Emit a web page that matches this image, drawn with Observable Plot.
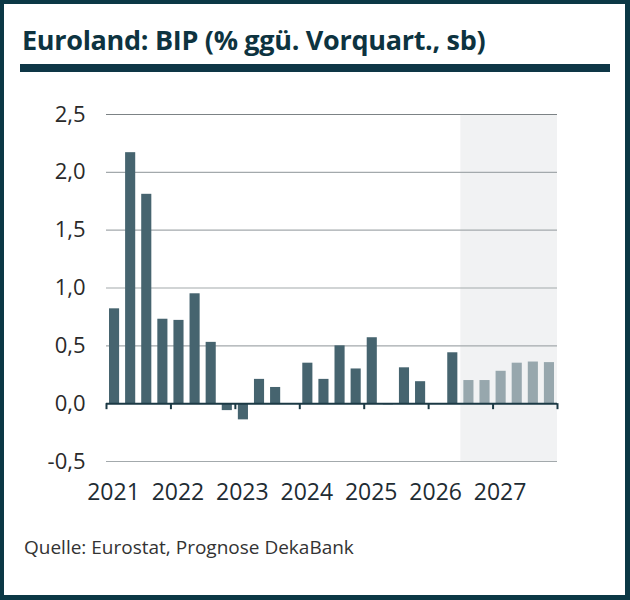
<!DOCTYPE html>
<html>
<head>
<meta charset="utf-8">
<script src="https://cdn.jsdelivr.net/npm/d3@7"></script>
<script src="https://cdn.jsdelivr.net/npm/@observablehq/plot@0.6"></script>
<style>
  body { margin: 0; background: #fff; }
  #card {
    position: relative; width: 630px; height: 600px; box-sizing: border-box;
    border: 4px solid #0b3845; border-right-width: 5px; border-bottom-width: 5px;
    font-family: "Open Sans", sans-serif; overflow: hidden;
  }
  #title {
    position: absolute; left: 18px; top: 22px; font-size: 27px; line-height: 1; font-weight: 700;
    color: #0d3340; letter-spacing: -0.3px; white-space: nowrap;
  }
  #bar { position: absolute; left: 16px; top: 60px; width: 590px; height: 8px; background: #0e3646; }
  #chart { position: absolute; left: -4px; top: 86px; width: 640px; }
  #chart svg { max-width: none; }
  #caption {
    position: absolute; left: 20px; top: 534px; font-size: 19px; line-height: 1;
    color: #333; white-space: nowrap;
  }
</style>
</head>
<body>
<div id="card">
  <div id="title">Euroland: BIP (% ggü. Vorquart., sb)</div>
  <div id="bar"></div>
  <div id="chart"></div>
  <div id="caption">Quelle: Eurostat, Prognose DekaBank</div>
</div>
<script>
const quarters = [
  "2021 Q1", "2021 Q2", "2021 Q3", "2021 Q4",
  "2022 Q1", "2022 Q2", "2022 Q3", "2022 Q4",
  "2023 Q1", "2023 Q2", "2023 Q3", "2023 Q4",
  "2024 Q1", "2024 Q2", "2024 Q3", "2024 Q4",
  "2025 Q1", "2025 Q2", "2025 Q3", "2025 Q4",
  "2026 Q1", "2026 Q2", "2026 Q3", "2026 Q4",
  "2027 Q1", "2027 Q2", "2027 Q3", "2027 Q4"
]
const values = [
  0.82, 2.17, 1.81, 0.73,
  0.72, 0.95, 0.53, -0.06,
  -0.14, 0.21, 0.14, 0.0,
  0.35, 0.21, 0.50, 0.30,
  0.57, -0.01, 0.31, 0.19,
  0.0, 0.44, 0.20, 0.20,
  0.28, 0.35, 0.36, 0.355
]
const forecastFrom = "2026 Q3"
const years = [2021, 2022, 2023, 2024, 2025, 2026, 2027]
const yTicks = [-0.5, 0, 0.5, 1, 1.5, 2, 2.5]

// quarter "2021 Q3" -> 2021.5 on a continuous time axis
const toT = q => +q.slice(0, 4) + (+q.slice(6) - 1) / 4
const tForecast = toT(forecastFrom)

const data = quarters.map((q, i) => ({
  t: toT(q),
  value: values[i],
  forecast: toT(q) >= tForecast
}))

// 0.5 -> "0,5", with a plain hyphen for negatives
const fmt = d => d3.format('.1f')(d).replace('.', ',').replace('\u2212', '-')

const chart = Plot.plot({
  width: 634,
  height: 424,
  marginLeft: 106,
  marginRight: 77,
  marginTop: 24,
  marginBottom: 53,
  x: { domain: [2021, 2028], axis: null },
  y: { domain: [-0.5, 2.5], axis: null },
  style: { fontFamily: 'Open Sans, sans-serif', overflow: 'visible', maxWidth: 'none' },
  marks: [
    // Prognose-Bereich
    Plot.rect([tForecast], { x1: d => d, x2: 2028, y1: -0.5, y2: 2.5, fill: '#f1f2f3' }),
    Plot.ruleY(yTicks.filter(d => d !== 0 && d !== 2.5), { stroke: '#a3a9ac', strokeWidth: 1.2 }),
    Plot.ruleY([2.5], { stroke: '#7c8285', strokeWidth: 1.2 }),
    Plot.rectY(data, {
      x1: 't', x2: d => d.t + 0.25, y: 'value',
      insetLeft: 3, insetRight: 3,
      fill: d => d.forecast ? '#97a7ad' : '#46646f'
    }),
    Plot.ruleY([0], { stroke: '#1b3944', strokeWidth: 2 }),
    Plot.ruleX([...years, 2028], { y1: 0, y2: 0, insetBottom: -6, stroke: '#1b3944', strokeWidth: 2 }),
    Plot.axisY(yTicks, {
      tickSize: 0, tickPadding: 21, tickFormat: fmt,
      fontSize: 22, fill: '#2a2a2a', label: null
    }),
    Plot.text(years, {
      x: d => d, frameAnchor: 'bottom', dx: 7, dy: 38, lineAnchor: 'bottom',
      text: d => String(d), fontSize: 23, fill: '#1e2c33'
    })
  ]
})
document.getElementById('chart').append(chart)
</script>
</body>
</html>
